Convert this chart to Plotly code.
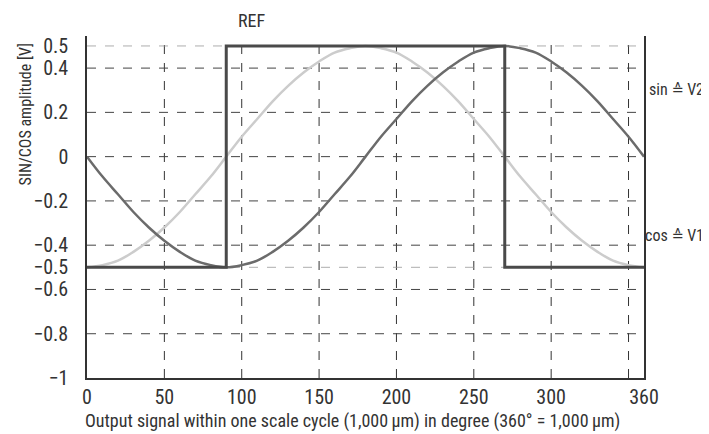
import plotly.graph_objects as go

angle = list(range(0, 370, 10))

# sin ~ V2 (dark grey curve)
sin_v2 = [0.0, -0.09, -0.17, -0.25, -0.32, -0.38, -0.43, -0.47, -0.49, -0.5,
          -0.49, -0.47, -0.43, -0.38, -0.32, -0.25, -0.17, -0.09, 0.0,
          0.09, 0.17, 0.25, 0.32, 0.38, 0.43, 0.47, 0.49, 0.5,
          0.49, 0.47, 0.43, 0.38, 0.32, 0.25, 0.17, 0.09, 0.0]

# cos ~ V1 (light grey curve)
cos_v1 = [-0.5, -0.49, -0.47, -0.43, -0.38, -0.32, -0.25, -0.17, -0.09, 0.0,
          0.09, 0.17, 0.25, 0.32, 0.38, 0.43, 0.47, 0.49, 0.5,
          0.49, 0.47, 0.43, 0.38, 0.32, 0.25, 0.17, 0.09, 0.0,
          -0.09, -0.17, -0.25, -0.32, -0.38, -0.43, -0.47, -0.49, -0.5]

# reference pulse
ref_x = [0, 90, 90, 270, 270, 360]
ref_y = [-0.5, -0.5, 0.5, 0.5, -0.5, -0.5]

x_ticks = [0, 50, 100, 150, 200, 250, 300, 360]
y_ticks = [0.5, 0.4, 0.2, 0, -0.2, -0.4, -0.5, -0.6, -0.8, -1]
y_labels = ["0.5", "0.4", "0.2", "0", "\u22120.2", "\u22120.4", "\u22120.5",
            "\u22120.6", "\u22120.8", "\u22121"]

x_grid = [50, 100, 150, 200, 250, 300, 350]
y_grid = [0.4, 0.2, 0, -0.2, -0.4, -0.6, -0.8]
y_grid_light = [0.5, -0.5]

FONT = "Roboto Condensed, DejaVu Sans Condensed, sans-serif"
TXT = "#333333"

fig = go.Figure()

fig.add_trace(go.Scatter(x=angle, y=cos_v1, mode="lines", line_shape="spline",
                         line=dict(color="#cccccc", width=2.5), hoverinfo="skip"))
fig.add_trace(go.Scatter(x=angle, y=sin_v2, mode="lines", line_shape="spline",
                         line=dict(color="#6b6b6b", width=2.5), hoverinfo="skip"))
fig.add_trace(go.Scatter(x=ref_x, y=ref_y, mode="lines",
                         line=dict(color="#4a4a4a", width=3), hoverinfo="skip"))

shapes = []
for gx in x_grid:
    shapes.append(dict(type="line", xref="x", yref="paper", x0=gx, x1=gx, y0=0, y1=1,
                       line=dict(color="#333333", width=1, dash="dash"), layer="below"))
for gy in y_grid:
    shapes.append(dict(type="line", xref="paper", yref="y", x0=0, x1=1, y0=gy, y1=gy,
                       line=dict(color="#444444", width=1, dash="dash"), layer="below"))
for gy in y_grid_light:
    shapes.append(dict(type="line", xref="paper", yref="y", x0=0, x1=1, y0=gy, y1=gy,
                       line=dict(color="#999999", width=0.8, dash="dash"), layer="below"))

annotations = [
    dict(text="REF", x=96, y=1.045, xref="x", yref="paper", xanchor="left", yanchor="middle",
         showarrow=False, font=dict(size=18, color=TXT)),
    # right-anchored so the labels end near the page edge like the reference
    dict(text="sin \u2259 V2", x=1.112, y=0.305, xref="paper", yref="y", xanchor="right",
         yanchor="middle", showarrow=False, font=dict(size=16, color=TXT)),
    dict(text="cos \u2259 V1", x=1.112, y=-0.355, xref="paper", yref="y", xanchor="right",
         yanchor="middle", showarrow=False, font=dict(size=16, color=TXT)),
    dict(text="SIN/COS amplitude [V]", x=-0.11, y=0.77, xref="paper", yref="paper",
         xanchor="center", yanchor="middle", textangle=-90, showarrow=False,
         font=dict(size=16, color=TXT)),
    dict(text="Output signal within one scale cycle (1,000\u2009\u00b5m) in degree (360\u00b0 = 1,000\u2009\u00b5m)",
         x=0.476, y=-0.127, xref="paper", yref="paper", xanchor="center", yanchor="middle",
         showarrow=False, font=dict(size=18, color=TXT)),
]

fig.update_layout(
    width=709, height=434,
    margin=dict(l=79, r=73, t=28, b=64),
    plot_bgcolor="white", paper_bgcolor="white",
    showlegend=False,
    font=dict(family=FONT, size=20, color=TXT),
    shapes=shapes,
    annotations=annotations,
    xaxis=dict(range=[0, 360], tickmode="array", tickvals=x_ticks, showgrid=False,
               zeroline=False, showline=True, linecolor="#333333", linewidth=1.5,
               ticks="", ticklabelstandoff=0),
    yaxis=dict(range=[-1, 0.545], tickmode="array", tickvals=y_ticks, ticktext=y_labels,
               showgrid=False, zeroline=False, showline=True, mirror=True,
               linecolor="#333333", linewidth=1.5, ticks="", ticklabelstandoff=13),
)

fig.write_html("out.html")
